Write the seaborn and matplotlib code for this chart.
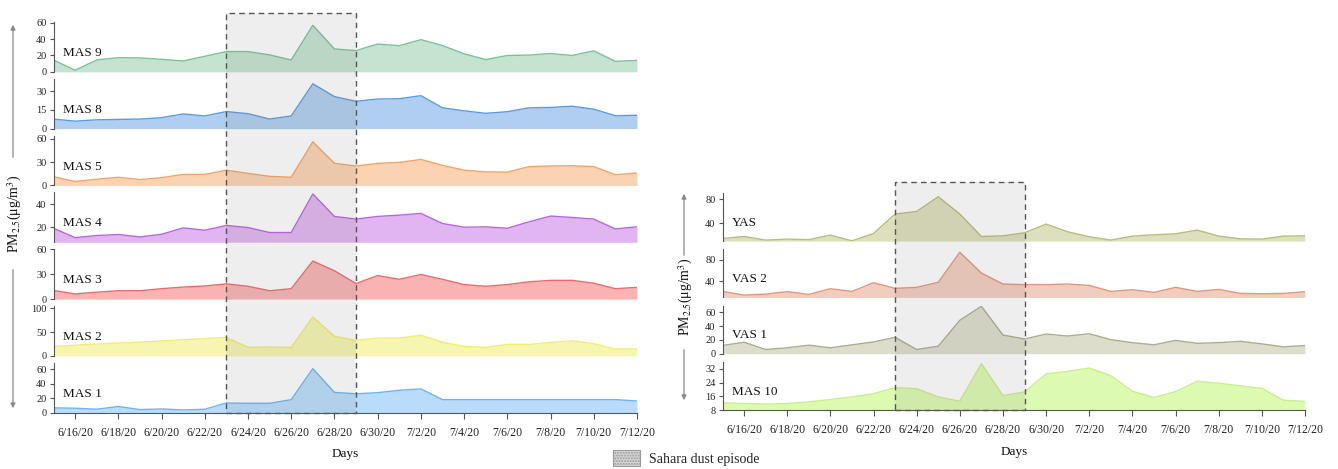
import numpy as np
import pandas as pd
import matplotlib
matplotlib.use("Agg")
import matplotlib.pyplot as plt
import seaborn as sns
import matplotlib.dates as mdates
import matplotlib.transforms as mtransforms
from matplotlib.patches import Rectangle, Patch, FancyArrowPatch

# ---------------- data ----------------
dates = pd.date_range("2020-06-15", "2020-07-12", freq="D")
tick_labels = ["6/16/20", "6/18/20", "6/20/20", "6/22/20", "6/24/20", "6/26/20", "6/28/20",
               "6/30/20", "7/2/20", "7/4/20", "7/6/20", "7/8/20", "7/10/20", "7/12/20"]
dust_start = pd.Timestamp("2020-06-23")
dust_end = pd.Timestamp("2020-06-29")

left_names = ["MAS 9", "MAS 8", "MAS 5", "MAS 4", "MAS 3", "MAS 2", "MAS 1"]
mas9 = [14.5, 2, 14.5, 17.4, 17, 15.3, 13.3, 19, 24.8, 24.8, 20.7, 14.5, 57, 28, 26, 34, 32, 39.4,
        32.3, 22, 15, 20, 20.5, 22.4, 20, 25.7, 12.8, 14]
mas8 = [7.7, 6, 7.1, 7.4, 7.7, 8.8, 11.8, 10.2, 13.7, 12, 7.7, 10.2, 36, 25.7, 21.9, 23.8, 24, 26.5,
        16.7, 14.3, 12.3, 13.6, 16.7, 17, 18, 15.6, 10.4, 10.7]
mas5 = [11.3, 5, 8, 10.5, 7.5, 10, 14.2, 14.2, 19.6, 15.5, 11.7, 10.5, 56, 28.4, 25, 28.4, 29.6, 33.4,
        25.9, 19.6, 17.5, 17.1, 24.2, 25, 25.4, 24.2, 13.8, 15.9]
mas4 = [19.1, 11, 12.8, 13.7, 11.6, 13.9, 19.4, 17.4, 21.5, 19.7, 15.4, 15.4, 48.7, 29.3, 27, 29.3,
        30.4, 31.9, 23.2, 20, 20.3, 19.1, 24.6, 29.6, 28.4, 27, 18.5, 20.3]
mas3 = [10.4, 6.2, 8.3, 10, 10, 12.5, 14.5, 15.8, 18.3, 15.4, 10, 12.5, 45.8, 34.1, 18.7, 28.3, 23.8,
        29.6, 23.8, 17.5, 15.4, 17.5, 20.8, 22.5, 22.5, 19.1, 12.5, 14.1]
mas2 = [20, 22.5, 25, 27, 29, 31.5, 34, 36.5, 39, 18, 18.5, 18, 82, 41.4, 32.5, 37.5, 37.3, 43.5, 29,
        20, 18, 24.2, 24.2, 28.3, 31.7, 25.5, 14.5, 14.5]
mas1 = [6.7, 6.2, 4.8, 8.6, 4.3, 5.2, 3.8, 4.8, 13.4, 13, 13, 18.1, 61, 28.1, 26.2, 27.7, 31, 33, 18.1,
        18.1, 18.1, 18.1, 18.1, 18.1, 18.1, 18.1, 18.1, 16.2]

right_names = ["YAS", "VAS 2", "VAS 1", "MAS 10"]
yas = [14.3, 17.7, 11.7, 13.3, 12.5, 20, 10.5, 22.7, 55, 59.3, 83.8, 55, 17.7, 18.8, 23.8, 38.3, 25.5,
       17.2, 11.7, 18.3, 20.5, 22.2, 28.3, 18.3, 13.8, 13.3, 18.3, 18.8]
vas2 = [21.2, 14.3, 16.2, 20.7, 15.6, 26.3, 21.2, 37.5, 26.9, 28.8, 38.2, 94.4, 55.6, 35, 33.8, 33.8,
        35, 32.5, 21.2, 24.4, 19.4, 28.8, 21.2, 25, 17.5, 16.9, 17.5, 20.6]
vas1 = [11.9, 16.7, 6.1, 8.6, 12.4, 8.6, 12.9, 17.1, 23.8, 6.1, 10.9, 48.6, 69, 27.1, 21.4, 28.6, 25.7,
        29, 20.4, 16.1, 12.9, 19.4, 15.1, 16.1, 18, 14.3, 10, 11.9]
mas10 = [12.2, 11.8, 11.4, 11.8, 12.7, 14.1, 15.6, 17.5, 21, 20.4, 15.6, 13.1, 35, 16.4, 18.5, 29, 30.5,
         32.4, 28, 18.9, 15.3, 18.7, 24.7, 23.6, 22.1, 20.6, 13.7, 13]

left_values = [mas9, mas8, mas5, mas4, mas3, mas2, mas1]
right_values = [yas, vas2, vas1, mas10]

left_yticks = [[0, 20, 40, 60], [0, 15, 30], [0, 30, 60], [20, 40], [0, 30, 60], [0, 50, 100], [0, 20, 40, 60]]
left_ylims = [(0, 61), (0, 40), (0, 64), (7, 50), (0, 60), (0, 105), (0, 69)]
right_yticks = [[40, 80], [40, 80], [0, 20, 40, 60], [8, 16, 24, 32]]
right_ylims = [(10, 90), (10, 100), (0, 70), (8, 36)]

left_line = ["#7cc19a", "#5b9be0", "#f2a468", "#b965dd", "#ec6a6a", "#eeee70", "#6fb3f0"]
left_fill = ["#c4e3d0", "#b0cff0", "#fbd3b3", "#e1b5f0", "#f9b3b3", "#f6f6b0", "#b9dcfa"]
right_line = ["#b8bc7c", "#e0977a", "#a9ad92", "#c9ee8e"]
right_fill = ["#dedfbc", "#f1cdbf", "#dcdecb", "#dcfbb0"]

# ---------------- style ----------------
sns.set_theme(style="white")
plt.rcParams["font.family"] = ["Liberation Serif", "DejaVu Serif"]
plt.rcParams["mathtext.fontset"] = "stix"

W, H = 1338, 469
fig = plt.figure(figsize=(W / 100, H / 100), dpi=100)

def fx(px):
    return px / W

def fy(py):
    return 1 - py / H

gs_left = fig.add_gridspec(7, 1, left=fx(53.5), right=fx(637), top=fy(22), bottom=fy(412.7), hspace=0.14)
gs_right = fig.add_gridspec(4, 1, left=fx(722.5), right=fx(1305), top=fy(193), bottom=fy(410), hspace=0.17)

spine_col = "#555555"


def draw_panel(gs, names, values, lines, fills, yticks, ylims):
    axes = []
    n = len(names)
    for i in range(n):
        ax = fig.add_subplot(gs[i, 0])
        lo, hi = ylims[i]
        ax.fill_between(dates, lo, values[i], color=fills[i], lw=0, zorder=1)
        sns.lineplot(x=dates, y=values[i], ax=ax, color=lines[i], linewidth=1.0, zorder=2)
        ax.set_xlim(dates[0], dates[-1])
        ax.set_ylim(lo, hi)
        ax.set_yticks(yticks[i])
        ax.set_xlabel("")
        ax.set_ylabel("")
        for s in ["top", "right"]:
            ax.spines[s].set_visible(False)
        ax.spines["left"].set_color(spine_col)
        ax.spines["left"].set_linewidth(0.8)
        ax.tick_params(axis="y", left=True, length=3, width=0.8, color=spine_col,
                       labelsize=7.5, pad=2, labelcolor="#222222")
        ax.text(0.016, 0.38, names[i], transform=ax.transAxes, fontsize=9.5,
                va="center", ha="left", color="#111111", zorder=3)
        if i < n - 1:
            ax.spines["bottom"].set_visible(False)
            ax.set_xticks([])
        else:
            ax.spines["bottom"].set_color(spine_col)
            ax.spines["bottom"].set_linewidth(0.8)
            ax.set_xticks(dates[1::2])
            ax.set_xticklabels(tick_labels)
            ax.tick_params(axis="x", bottom=True, length=4, width=0.8, color=spine_col,
                           labelsize=8.5, pad=6, labelcolor="#222222")
            ax.set_xlabel("Days", fontsize=9.5, labelpad=7, color="#111111")
        ax.patch.set_alpha(0)
        axes.append(ax)
    return axes


left_axes = draw_panel(gs_left, left_names, left_values, left_line, left_fill, left_yticks, left_ylims)
right_axes = draw_panel(gs_right, right_names, right_values, right_line, right_fill, right_yticks, right_ylims)


def dust_box(ax, top_px, bottom_px):
    tr = mtransforms.blended_transform_factory(ax.transData, fig.transFigure)
    x0 = mdates.date2num(dust_start)
    x1 = mdates.date2num(dust_end)
    y0 = fy(bottom_px)
    h = fy(top_px) - fy(bottom_px)
    fig.add_artist(Rectangle((x0, y0), x1 - x0, h, transform=tr, facecolor="#808080",
                             alpha=0.13, lw=0, zorder=5))
    fig.add_artist(Rectangle((x0, y0), x1 - x0, h, transform=tr, facecolor="none",
                             edgecolor="#555555", lw=1.0, ls=(0, (4, 3)), zorder=6))


dust_box(left_axes[-1], 13, 412.7)
dust_box(right_axes[-1], 182, 410)

# y labels with arrows
ylab = r"PM$_{2.5}$(μg/m$^3$)"
fig.text(fx(15), fy(214), ylab, rotation=90, ha="center", va="center", fontsize=10, color="#111111")
fig.text(fx(686), fy(297), ylab, rotation=90, ha="center", va="center", fontsize=10, color="#111111")

arrow_kw = dict(transform=fig.transFigure, arrowstyle="-|>", mutation_scale=7, color="#888888", lw=0.9)
fig.add_artist(FancyArrowPatch((fx(13), fy(160)), (fx(13), fy(22)), **arrow_kw))
fig.add_artist(FancyArrowPatch((fx(13), fy(267)), (fx(13), fy(411)), **arrow_kw))
fig.add_artist(FancyArrowPatch((fx(684), fy(258)), (fx(684), fy(191)), **arrow_kw))
fig.add_artist(FancyArrowPatch((fx(684), fy(347)), (fx(684), fy(403)), **arrow_kw))

# legend
handle = Patch(facecolor="#d6d6d6", edgecolor="#9a9a9a", hatch="......", lw=0.8)
fig.legend([handle], ["Sahara dust episode"], loc="center", bbox_to_anchor=(fx(686), fy(458)),
           frameon=False, fontsize=10, handlelength=2.0, handleheight=1.5, handletextpad=0.6)

fig.savefig("out.png", dpi=100)
